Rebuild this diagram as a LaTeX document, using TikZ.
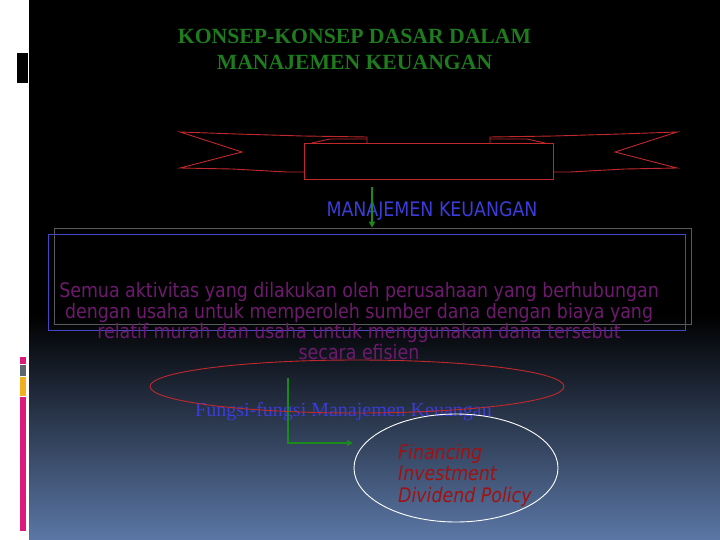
\documentclass[tikz,border=0pt]{standalone}
\usepackage{fontspec}
\setmainfont{Liberation Serif}
\newfontfamily\tahoma[FakeStretch=0.87]{DejaVu Sans}
\usepackage{tikz}
\usetikzlibrary{arrows.meta,shapes.geometric}
\definecolor{slidebg}{HTML}{5B77A6}
\definecolor{titlegreen}{HTML}{1E7B1E}
\definecolor{arrowgreen}{HTML}{1A8A1A}
\definecolor{ribbonred}{HTML}{C0282C}
\definecolor{headblue}{HTML}{3C3CD8}
\definecolor{boxgray}{HTML}{5A5A5A}
\definecolor{boxblue}{HTML}{4646C8}
\definecolor{defpurple}{HTML}{6E1A6E}
\definecolor{listred}{HTML}{A01212}
\definecolor{barpink}{HTML}{DC1A7C}
\definecolor{bargray}{HTML}{5C6470}
\definecolor{baryellow}{HTML}{F0B020}
\tikzset{
  rib/.style={draw=ribbonred, line width=0.9pt, line join=miter},
  defframe/.style={draw, line width=0.8pt, minimum width=637pt, minimum height=96pt, inner sep=0pt},
  conn/.style={draw=arrowgreen, line width=2.4pt, -{Triangle[length=6pt,width=6pt]}},
  oval/.style={ellipse, draw, line width=0.9pt, inner sep=0pt},
  lab/.style={inner sep=0pt, font=\tahoma\fontsize{20}{20.5}\selectfont},
}

\begin{document}
\begin{tikzpicture}[x=1pt, y=-1pt]
  \useasboundingbox (0,0) rectangle (720,540);
  \fill[white] (0,0) rectangle (29,540);
  \fill[black] (29,0) rectangle (720,315);
  \shade[top color=black, bottom color=slidebg] (29,315) rectangle (720,540);

  \fill[black] (17,53) rectangle (28,83);
  \fill[barpink] (20,357) rectangle (26,364);
  \fill[bargray] (20,365) rectangle (26,376);
  \fill[baryellow] (20,377) rectangle (26,396);
  \fill[barpink] (20,397) rectangle (26,531);

  \node[inner sep=0pt, align=center, text=titlegreen,
        font=\fontsize{21.7}{26}\selectfont\bfseries] (title) at (354.5,49)
        {KONSEP-KONSEP DASAR DALAM\\MANAJEMEN KEUANGAN};

  \foreach \s in {1,-1}{
    \begin{scope}[shift={(428.5,0)}, xscale=\s]
      \draw[rib] (-61.5,143) -- (-61.5,137) -- (-125.5,136) -- (-191.5,134) -- (-248.5,132)
        -- (-186.5,152) -- (-248.5,168) -- (-196.5,169) -- (-141.5,172) -- (-124.5,172);
      \draw[rib] (-116.5,143) -- (-98.5,139) -- (-61.5,139);
    \end{scope}
  }
  \draw[rib] (304,143) rectangle (553,179);

  \node[lab, text=headblue, anchor=base] (headtext) at (432,216) {MANAJEMEN KEUANGAN};

  \node[defframe, draw=boxgray] (grayframe) at (372.5,276) {};
  \node[defframe, draw=boxblue] (blueframe) at (366.5,282) {};
  \node[lab, text=defpurple, align=center] (deftext) at (359,321)
    {Semua aktivitas yang dilakukan oleh perusahaan yang berhubungan\\
     dengan usaha untuk memperoleh sumber dana dengan biaya yang\\
     relatif murah dan usaha untuk menggunakan dana tersebut\\
     secara efisien};

  \coordinate (arrowtop) at (372,187);
  \draw[conn, line width=1.4pt] (arrowtop) -- (arrowtop |- grayframe.north);

  \node[inner sep=0pt, anchor=base, text=headblue, font=\fontsize{20}{24}\selectfont]
    (fungsitext) at (343.5,416.5) {Fungsi-fungsi Manajemen Keuangan};
  \node[oval, draw=ribbonred, minimum width=414pt, minimum height=53pt] (fungsioval) at (357,386.5) {};

  \coordinate (ltop) at (288,378);
  \coordinate (lend) at (353,443);
  \draw[conn] (ltop) |- (lend);

  \node[oval, draw=white, minimum width=204pt, minimum height=108pt] (listoval) at (456,468) {};
  \node[lab, text=listred, align=left, anchor=west,
        font=\tahoma\itshape\fontsize{20}{21.5}\selectfont] (listtext) at (398,475.3)
    {Financing\\Investment\\Dividend Policy};
\end{tikzpicture}
\end{document}
